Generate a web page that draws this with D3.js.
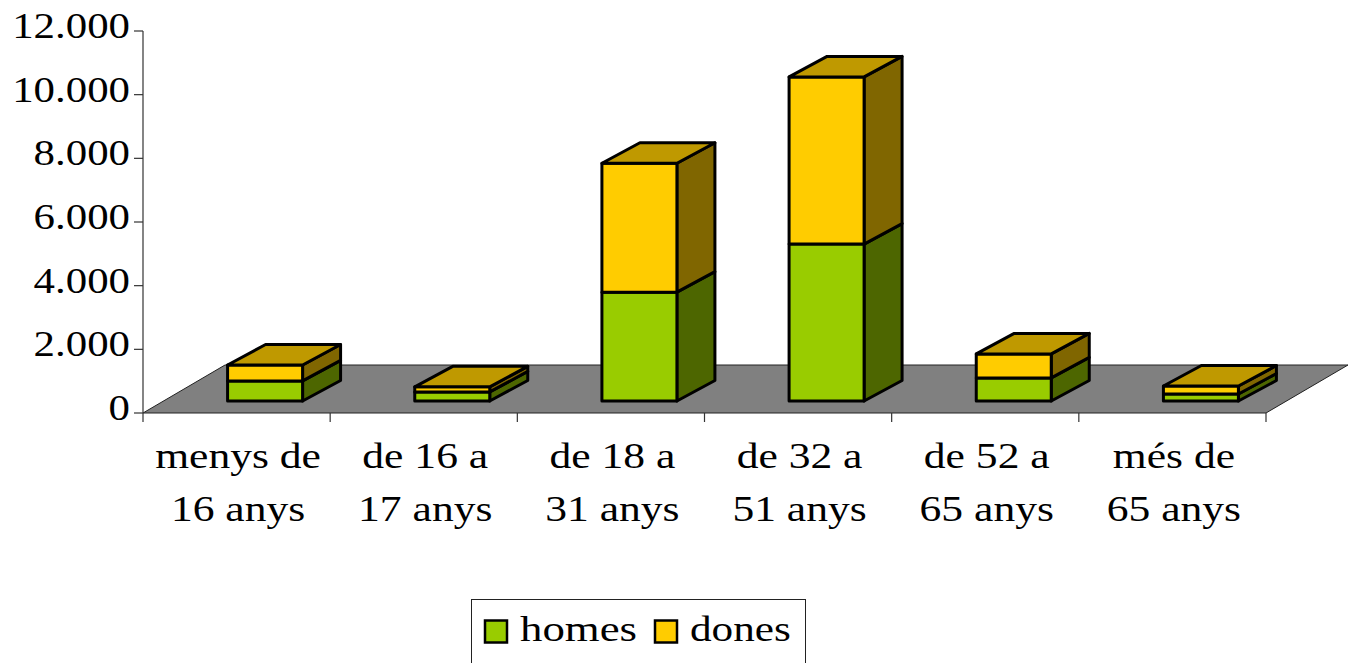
<!DOCTYPE html>
<html><head><meta charset="utf-8">
<style>html,body{margin:0;padding:0;background:#fff;overflow:hidden}svg{display:block}text{font-family:"Liberation Serif",serif;fill:#000}</style>
<script src="https://cdn.jsdelivr.net/npm/d3@7"></script></head>
<body><svg id="c" width="1348" height="663"></svg>
<script>
const categories=[["menys de","16 anys"],["de 16 a","17 anys"],["de 18 a","31 anys"],["de 32 a","51 anys"],["de 52 a","65 anys"],["més de","65 anys"]];
const homes=[630,285,3420,4930,725,220];
const dones=[500,160,4050,5250,755,250];
const yTicks=[0,2000,4000,6000,8000,10000,12000];
const seriesNames=["homes","dones"];
const front=["#99CC00","#FFCC00"],side=["#4D6600","#806600"],top_=["#739900","#BF9900"];

const svg=d3.select("#c");
const x=d3.scaleBand().domain(d3.range(categories.length)).range([143,1266]);
const y=d3.scaleLinear().domain([0,12000]).range([413,31]);
const fmt=v=>d3.format(",")(v).replace(/,/g,".");
const floorD=[82,-48], barD=[38,-20.5], barW=75, barDX=28.5, barDY=-12;
const line=d3.line();

function stretch(sel,f){sel.each(function(){const w=this.getComputedTextLength();this.setAttribute("textLength",w*f);this.setAttribute("lengthAdjust","spacingAndGlyphs");});}

// floor
svg.append("path").attr("d",line([[x.range()[0],y(0)],[x.range()[1],y(0)],[x.range()[1]+floorD[0],y(0)+floorD[1]],[x.range()[0]+floorD[0],y(0)+floorD[1]]])+"Z")
 .attr("fill","#808080").attr("stroke","#222").attr("stroke-width",1);

// axes
const ya=svg.append("g");
ya.append("line").attr("x1",143).attr("x2",143).attr("y1",y(12000)).attr("y2",y(0)).attr("stroke","#333").attr("stroke-width",1.2);
ya.selectAll("line.t").data(yTicks).join("line").attr("class","t").attr("x1",134).attr("x2",143).attr("y1",y).attr("y2",y).attr("stroke","#333").attr("stroke-width",1.2);
ya.selectAll("text").data(yTicks).join("text").attr("x",130).attr("y",d=>y(d)+7).attr("text-anchor","end").attr("font-size",36).text(fmt).call(stretch,1.19);

const xTicks=x.domain().map(i=>x(i)).concat(x.range()[1]);
svg.append("g").selectAll("line").data(xTicks).join("line").attr("x1",d=>d).attr("x2",d=>d).attr("y1",413).attr("y2",422).attr("stroke","#333").attr("stroke-width",1.2);

const labs=svg.append("g").selectAll("g").data(categories).join("g");
labs.each(function(c,i){
  const cx=x(i)+x.bandwidth()/2+1.5;
  d3.select(this).selectAll("text").data(c).join("text").attr("x",cx).attr("y",(d,j)=>468+j*53).attr("text-anchor","middle").attr("font-size",36).text(d=>d).call(stretch,1.21);
});

// stacked 3D bars
const stack=d3.stack().keys([0,1]).value((i,k)=>[homes,dones][k][i])(d3.range(categories.length));
const bars=svg.append("g").attr("stroke","#000").attr("stroke-width",3).attr("stroke-linejoin","round");
d3.range(categories.length).forEach(i=>{
  const l=x(i)+x.bandwidth()/2+barDX-barW/2, r=l+barW;
  stack.forEach((s,k)=>{
    const b=y(s[i][0])+barDY, t=y(s[i][1])+barDY;
    bars.append("path").attr("d",line([[r,t],[r+barD[0],t+barD[1]],[r+barD[0],b+barD[1]],[r,b]])+"Z").attr("fill",side[k]);
    bars.append("rect").attr("x",l).attr("y",t).attr("width",barW).attr("height",b-t).attr("fill",front[k]);
    if(k===stack.length-1) bars.append("path").attr("d",line([[l,t],[l+barD[0],t+barD[1]],[r+barD[0],t+barD[1]],[r,t]])+"Z").attr("fill",top_[k]);
  });
});

// legend
svg.append("rect").attr("x",471.5).attr("y",599.5).attr("width",334).attr("height",80).attr("fill","#fff").attr("stroke","#222").attr("stroke-width",1);
const lx=[[485,520],[655,690]];
seriesNames.forEach((n,k)=>{
  svg.append("rect").attr("x",lx[k][0]).attr("y",620.5).attr("width",22).attr("height",22).attr("fill",front[k]).attr("stroke","#000").attr("stroke-width",2.5);
  svg.append("text").attr("x",lx[k][1]).attr("y",641).attr("font-size",36).text(n).call(stretch,k?1.2:1.245);
});
</script></body></html>
